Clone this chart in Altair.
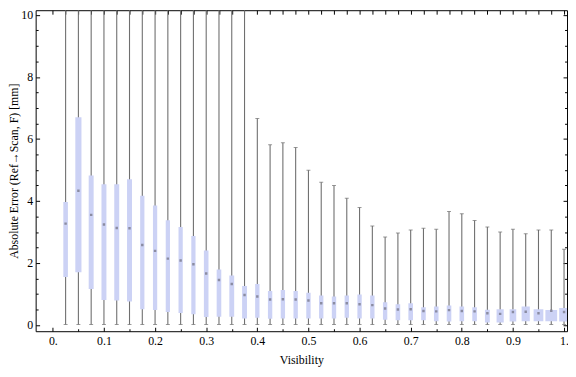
import altair as alt
import pandas as pd

# ---- data ----
visibility = [0.025, 0.05, 0.075, 0.1, 0.125, 0.15, 0.175, 0.2, 0.225, 0.25,
              0.275, 0.3, 0.325, 0.35, 0.375, 0.4, 0.425, 0.45, 0.475, 0.5,
              0.525, 0.55, 0.575, 0.6, 0.625, 0.65, 0.675, 0.7, 0.725, 0.75,
              0.775, 0.8, 0.825, 0.85, 0.875, 0.9, 0.925, 0.95, 0.975, 1.0]
q1 = [1.55, 1.70, 1.16, 0.81, 0.79, 0.76, 0.51, 0.48, 0.42, 0.39,
      0.35, 0.26, 0.27, 0.27, 0.21, 0.23, 0.20, 0.21, 0.21, 0.21,
      0.21, 0.21, 0.23, 0.21, 0.21, 0.17, 0.15, 0.15, 0.15, 0.12,
      0.11, 0.12, 0.12, 0.08, 0.08, 0.11, 0.12, 0.12, 0.12, 0.11]
q3 = [3.97, 6.70, 4.82, 4.54, 4.54, 4.70, 4.17, 3.85, 3.38, 3.16,
      2.87, 2.40, 1.79, 1.60, 1.26, 1.32, 1.10, 1.13, 1.10, 1.04,
      0.95, 0.92, 0.95, 0.98, 0.95, 0.73, 0.67, 0.70, 0.57, 0.60,
      0.63, 0.60, 0.57, 0.49, 0.51, 0.51, 0.60, 0.51, 0.48, 0.55]
median = [3.27, 4.33, 3.55, 3.24, 3.13, 3.12, 2.58, 2.39, 2.14, 2.08,
          1.96, 1.66, 1.45, 1.32, 0.97, 0.92, 0.82, 0.83, 0.82, 0.79,
          0.70, 0.70, 0.70, 0.67, 0.64, 0.53, 0.50, 0.51, 0.45, 0.44,
          0.48, 0.45, 0.44, 0.38, 0.36, 0.42, 0.43, 0.38, 0.46, 0.42]
whisker_low = [0.02, 0.02, 0.02, 0.02, 0.02, 0.02, 0.02, 0.02, 0.02, 0.02,
               0.02, 0.02, 0.02, 0.02, 0.02, 0.02, 0.02, 0.02, 0.02, 0.02,
               0.02, 0.02, 0.02, 0.02, 0.02, 0.02, 0.02, 0.02, 0.02, 0.02,
               0.02, 0.02, 0.02, 0.02, 0.02, 0.02, 0.02, 0.02, 0.02, 0.02]
# first 15 whiskers run past the top of the plot range
whisker_high = [11.0, 11.0, 11.0, 11.0, 11.0, 11.0, 11.0, 11.0, 11.0, 11.0,
                11.0, 11.0, 11.0, 11.0, 11.0, 6.66, 5.81, 5.88, 5.72, 4.99,
                4.60, 4.50, 4.09, 3.79, 3.19, 2.84, 2.97, 3.06, 3.12, 3.09,
                3.66, 3.59, 3.37, 3.16, 3.00, 3.09, 2.94, 3.06, 3.06, 2.44]
# visibility spread covered by each box
box_spread = [0.0090, 0.0120, 0.0097, 0.0097, 0.0097, 0.0097, 0.0083, 0.0083, 0.0083, 0.0083,
              0.0083, 0.0090, 0.0090, 0.0095, 0.0095, 0.0085, 0.0085, 0.0085, 0.0085, 0.0085,
              0.0085, 0.0085, 0.0085, 0.0085, 0.0085, 0.0085, 0.0090, 0.0090, 0.0090, 0.0090,
              0.0090, 0.0090, 0.0090, 0.0095, 0.0140, 0.0130, 0.0160, 0.0190, 0.0230, 0.0190]

x_major = [0.0, 0.1, 0.2, 0.3, 0.4, 0.5, 0.6, 0.7, 0.8, 0.9, 1.0]
x_minor = [0.05, 0.15, 0.25, 0.35, 0.45, 0.55, 0.65, 0.75, 0.85, 0.95]
x_top = [0.0, 0.025, 0.05, 0.075, 0.1, 0.125, 0.15, 0.175, 0.2, 0.225, 0.25,
         0.275, 0.3, 0.325, 0.35, 0.375, 0.4, 0.425, 0.45, 0.475, 0.5,
         0.525, 0.55, 0.575, 0.6, 0.625, 0.65, 0.675, 0.7, 0.725, 0.75,
         0.775, 0.8, 0.825, 0.85, 0.875, 0.9, 0.925, 0.95, 0.975, 1.0]
y_major = [0, 2, 4, 6, 8, 10]
y_minor = [0.5, 1, 1.5, 2.5, 3, 3.5, 4.5, 5, 5.5, 6.5, 7, 7.5, 8.5, 9, 9.5]

df = pd.DataFrame({"vis": visibility, "q1": q1, "q3": q3, "median": median,
                   "lo": whisker_low, "hi": whisker_high, "spread": box_spread})
df["x_lo"] = df["vis"] - df["spread"] / 2
df["x_hi"] = df["vis"] + df["spread"] / 2

W, H = 538, 325
xs = alt.Scale(domain=[-0.0336, 1.0058], nice=False, zero=False)
ys = alt.Scale(domain=[-0.2, 10.15], nice=False, zero=False)

WHISKER = "#6f6f6f"
BOX = "#ccd2f5"
FONT = "Liberation Serif"


def tick_axis(orient, values, size, offset):
    return alt.Axis(orient=orient, values=values, tickSize=size, offset=offset,
                    labels=False, domain=False, grid=False, title=None,
                    tickColor="black", tickWidth=1)


base = alt.Chart(df)

whiskers = base.mark_rule(color=WHISKER, strokeWidth=1.1, clip=True).encode(
    x=alt.X("vis:Q", scale=xs, axis=alt.Axis(
        orient="bottom", values=x_major, ticks=False, domain=False, grid=False,
        labelExpr="datum.value == 0 ? '0.' : datum.value == 1 ? '1.' : format(datum.value, '.1f')",
        labelPadding=4, labelFlush=False, labelOverlap=False,
        title="Visibility", titleX=W / 2, titleY=29, titleAlign="center",
        titleBaseline="middle")),
    y=alt.Y("lo:Q", scale=ys, axis=alt.Axis(
        orient="left", values=y_major, ticks=False, domain=False, grid=False,
        labelPadding=3, labelFlush=False, labelOverlap=False,
        title="Absolute Error (Ref\u2192Scan, F) [mm]", titleX=-22, titleY=H / 2,
        titleAngle=270, titleAlign="center", titleBaseline="middle")),
    y2="hi:Q",
)

low_caps = base.mark_tick(orient="horizontal", size=4, thickness=1,
                          color=WHISKER, clip=True).encode(
    x=alt.X("vis:Q", scale=xs, axis=tick_axis("top", x_major, 4, -H)),
    y=alt.Y("lo:Q", scale=ys, axis=tick_axis("right", y_major, 4, -W)),
)

high_caps = base.mark_tick(orient="horizontal", size=4, thickness=1,
                           color=WHISKER, clip=True).encode(
    x=alt.X("vis:Q", scale=xs, axis=tick_axis("top", x_minor, 2.5, -H)),
    y=alt.Y("hi:Q", scale=ys, axis=tick_axis("right", y_minor, 2.5, -W)),
)

boxes = base.mark_bar(color=BOX, clip=True).encode(
    x=alt.X("x_lo:Q", scale=xs, axis=tick_axis("bottom", x_top, 4, -H)),
    x2="x_hi:Q",
    y=alt.Y("q1:Q", scale=ys, axis=tick_axis("left", y_major, 4, -W)),
    y2="q3:Q",
)

medians = base.mark_square(size=6, color="#7a7a8c", opacity=0.8, clip=True).encode(
    x=alt.X("vis:Q", scale=xs, axis=None),
    y=alt.Y("median:Q", scale=ys, axis=tick_axis("left", y_minor, 2.5, -W)),
)

chart = alt.layer(whiskers, low_caps, high_caps, boxes, medians).resolve_axis(
    x="independent", y="independent"
).properties(
    width=W, height=H,
    autosize=alt.AutoSizeParams(type="none"),
    padding={"left": 28, "top": 0, "right": 1, "bottom": 35},
).configure_view(
    stroke="black", strokeWidth=1
).configure_axis(
    labelFont=FONT, labelFontSize=12, labelColor="black",
    titleFont=FONT, titleFontSize=12, titleFontWeight="normal", titleColor="black",
)

chart.save("out.html", embed_options={"renderer": "svg", "actions": False})
